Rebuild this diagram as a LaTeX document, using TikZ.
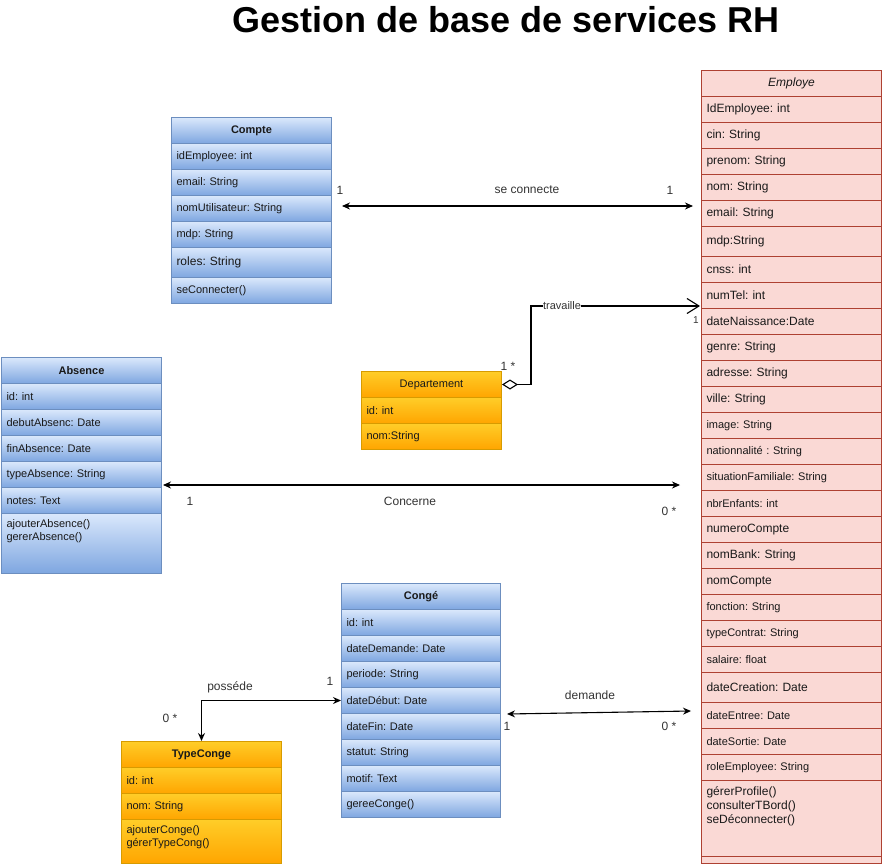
\documentclass[tikz,border=0pt]{standalone}
\usepackage{fontspec}
\setmainfont{Liberation Sans}
\usetikzlibrary{arrows.meta}
\frenchspacing

\definecolor{bluetop}{HTML}{DAE8FC}
\definecolor{bluebot}{HTML}{7EA6E0}
\definecolor{blueline}{HTML}{6C8EBF}
\definecolor{orgtop}{HTML}{FFCD28}
\definecolor{orgbot}{HTML}{FFA500}
\definecolor{orgline}{HTML}{D79B00}
\definecolor{empfill}{HTML}{FAD9D5}
\definecolor{empline}{HTML}{AE4132}
\definecolor{txtgray}{HTML}{333333}

\newcommand{\fs}[1]{\fontsize{#1}{#1}\selectfont}

\tikzset{
	cell/.style={rectangle, anchor=north west, inner xsep=5pt, inner ysep=0pt, align=left, minimum height=26pt, font=\fs{11}, text=black!90},
	bluecell/.style={cell, draw=blueline, top color=bluetop, bottom color=bluebot},
	orgcell/.style={cell, draw=orgline, top color=orgtop, bottom color=orgbot},
	cptrow/.style={bluecell, text width=150pt},
	absrow/.style={bluecell, text width=150pt},
	cgrow/.style={bluecell, text width=149pt},
	deprow/.style={orgcell, text width=130pt},
	tcrow/.style={orgcell, text width=150pt},
	emprow/.style={cell, draw=empline, fill=empfill, text width=170pt, font=\fs{12}},
	hdr/.style={align=center, font=\fs{11}\bfseries},
	mtext/.style={anchor=north west, inner xsep=5pt, inner ysep=6pt, align=left, font=\fontsize{11}{13}\selectfont, text=black!90},
	lbl/.style={font=\fs{12}, text=txtgray, inner sep=1pt},
	assoc/.style={line width=1.1pt, {Stealth[length=8pt, width=7pt]}-{Stealth[length=8pt, width=7pt]}},
	aggr/.style={line width=1.1pt, {Diamond[open, length=16pt, width=10pt]}-{Straight Barb[length=12pt, width=15pt]}},
}

\begin{document}
\begin{tikzpicture}[x=1pt, y=-1pt, line width=1pt]
	%%%%% START %%%%%
	\useasboundingbox (0,0) rectangle (893,867);

	\node[font=\fs{36}\bfseries, anchor=base] (title) at (506,33) {Gestion de base de services RH};

	% Compte
	\node[cptrow, hdr] (cpt0) at (171,117) {Compte};
	\node[cptrow] (cpt1) at (171,143) {idEmployee: int};
	\node[cptrow] (cpt2) at (171,169) {email: String};
	\node[cptrow] (cpt3) at (171,195) {nomUtilisateur: String};
	\node[cptrow] (cpt4) at (171,221) {mdp: String};
	\node[cptrow, minimum height=30pt, font=\fs{12}] (cpt5) at (171,247) {roles: String};
	\node[cptrow] (cpt6) at (171,277) {seConnecter()};

	% Absence
	\node[absrow, hdr] (abs0) at (1,357) {Absence};
	\node[absrow] (abs1) at (1,383) {id: int};
	\node[absrow] (abs2) at (1,409) {debutAbsenc: Date};
	\node[absrow] (abs3) at (1,435) {finAbsence: Date};
	\node[absrow] (abs4) at (1,461) {typeAbsence: String};
	\node[absrow] (abs5) at (1,487) {notes: Text};
	\node[absrow, minimum height=60pt] (abs6) at (1,513) {};
	\node[mtext] (abs6t) at (abs6.north west) {ajouterAbsence()\\gererAbsence()};

	% Departement
	\node[deprow, hdr, font=\fs{11}] (dep0) at (361,371) {Departement};
	\node[deprow] (dep1) at (361,397) {id: int};
	\node[deprow] (dep2) at (361,423) {nom:String};

	% Conge
	\node[cgrow, hdr] (cg0) at (341,583) {Congé};
	\node[cgrow] (cg1) at (341,609) {id: int};
	\node[cgrow] (cg2) at (341,635) {dateDemande: Date};
	\node[cgrow] (cg3) at (341,661) {periode: String};
	\node[cgrow] (cg4) at (341,687) {dateDébut: Date};
	\node[cgrow] (cg5) at (341,713) {dateFin: Date};
	\node[cgrow] (cg6) at (341,739) {statut: String};
	\node[cgrow] (cg7) at (341,765) {motif: Text};
	\node[cgrow] (cg8) at (341,791) {gereeConge()};

	% TypeConge
	\node[tcrow, hdr] (tc0) at (121,741) {TypeConge};
	\node[tcrow] (tc1) at (121,767) {id: int};
	\node[tcrow] (tc2) at (121,793) {nom: String};
	\node[tcrow, minimum height=44pt] (tc3) at (121,819) {};
	\node[mtext] (tc3t) at (tc3.north west) {ajouterConge()\\gérerTypeCong()};

	% Employe
	\node[emprow, align=center, font=\fs{12}\itshape] (emp0) at (701,70) {Employe};
	\node[emprow] (emp1) at (701,96) {IdEmployee: int};
	\node[emprow] (emp2) at (701,122) {cin: String};
	\node[emprow] (emp3) at (701,148) {prenom: String};
	\node[emprow] (emp4) at (701,174) {nom: String};
	\node[emprow] (emp5) at (701,200) {email: String};
	\node[emprow, minimum height=30pt] (emp6) at (701,226) {mdp:String};
	\node[emprow] (emp7) at (701,256) {cnss: int};
	\node[emprow] (emp8) at (701,282) {numTel: int};
	\node[emprow] (emp9) at (701,308) {dateNaissance:Date};
	\node[emprow] (emp10) at (701,334) {genre: String};
	\node[emprow] (emp11) at (701,360) {adresse: String};
	\node[emprow] (emp12) at (701,386) {ville: String};
	\node[emprow, font=\fs{11}] (emp13) at (701,412) {image: String};
	\node[emprow, font=\fs{11}] (emp14) at (701,438) {nationnalité : String};
	\node[emprow, font=\fs{11}] (emp15) at (701,464) {situationFamiliale: String};
	\node[emprow, font=\fs{11}] (emp16) at (701,490) {nbrEnfants: int};
	\node[emprow] (emp17) at (701,516) {numeroCompte};
	\node[emprow] (emp18) at (701,542) {nomBank: String};
	\node[emprow] (emp19) at (701,568) {nomCompte};
	\node[emprow, font=\fs{11}] (emp20) at (701,594) {fonction: String};
	\node[emprow, font=\fs{11}] (emp21) at (701,620) {typeContrat: String};
	\node[emprow, font=\fs{11}] (emp22) at (701,646) {salaire: float};
	\node[emprow, minimum height=30pt] (emp23) at (701,672) {dateCreation: Date};
	\node[emprow, font=\fs{11}] (emp24) at (701,702) {dateEntree: Date};
	\node[emprow, font=\fs{11}] (emp25) at (701,728) {dateSortie: Date};
	\node[emprow, font=\fs{11}] (emp26) at (701,754) {roleEmployee: String};
	\node[emprow, minimum height=76pt] (emp27) at (701,780) {};
	\node[mtext, font=\fontsize{12}{14}\selectfont, inner ysep=6pt] (emp27t) at (emp27.north west) {gérerProfile()\\consulterTBord()\\seDéconnecter()};
	\node[emprow, minimum height=7pt] (emp28) at (701,856) {};

	% se connecte
	\coordinate (sc-a) at (342,206);
	\coordinate (sc-b) at (693,206);
	\draw[assoc] (sc-a) -- (sc-b);
	\node[lbl] (sc-l) at (527,190) {se connecte};
	\node[lbl] (sc-m1) at (340,190) {1};
	\node[lbl] (sc-m2) at (670,190) {1};

	% travaille
	\coordinate (tr-b) at (700,306);
	\draw[aggr] (dep0.east) -- ++(29,0) |- (tr-b);
	\node[font=\fs{11}, text=txtgray, fill=white, inner sep=0.5pt] (tr-l) at (562,306) {travaille};
	\node[lbl] (tr-m1) at (508,366) {1 *};
	\node[font=\fs{10}, text=txtgray] (tr-m2) at (696,320) {1};

	% Concerne
	\coordinate (co-a) at (163,485);
	\coordinate (co-b) at (680,485);
	\draw[assoc] (co-a) -- (co-b);
	\node[lbl] (co-l) at (410,501) {Concerne};
	\node[lbl] (co-m1) at (190,501) {1};
	\node[lbl] (co-m2) at (669,511) {0 *};

	% possede
	\draw[assoc] (tc0.north) |- (cg4.west);
	\node[lbl] (po-l) at (230,687) {posséde};
	\node[lbl] (po-m1) at (330,681) {1};
	\node[lbl] (po-m2) at (170,718) {0 *};

	% demande
	\coordinate (de-a) at (507,714);
	\coordinate (de-b) at (691,711);
	\draw[assoc] (de-a) -- (de-b);
	\node[lbl] (de-l) at (590,695) {demande};
	\node[lbl] (de-m1) at (507,726) {1};
	\node[lbl] (de-m2) at (669,726) {0 *};
	%%%%% END %%%%%
\end{tikzpicture}
\end{document}
